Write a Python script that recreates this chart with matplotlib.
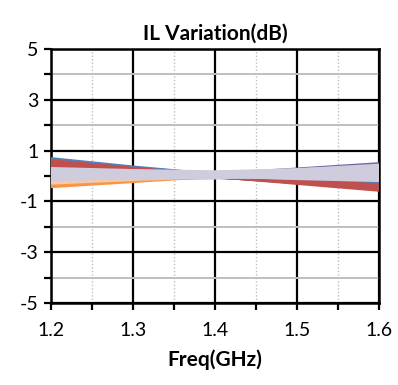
import numpy as np
import matplotlib
matplotlib.use("Agg")
import matplotlib.pyplot as plt

plt.rcParams["axes.unicode_minus"] = False

# frequency points (GHz)
freq = [1.2, 1.3, 1.4, 1.5, 1.6]

# IL variation traces (dB)
blue_traces = [
    [0.66, 0.33, 0.04, -0.14, -0.30],
    [0.62, 0.30, 0.03, -0.12, -0.26],
]
red_traces = [
    [0.58, 0.28, 0.00, -0.27, -0.54],
    [0.52, 0.25, -0.01, -0.24, -0.48],
    [0.45, 0.21, -0.02, -0.21, -0.42],
    [0.38, 0.17, -0.03, -0.19, -0.37],
]
orange_traces = [
    [-0.40, -0.20, 0.01, 0.21, 0.42],
    [-0.34, -0.16, 0.02, 0.18, 0.36],
]
purple_traces = [
    [-0.22, -0.10, 0.05, 0.25, 0.46],
    [-0.18, -0.09, -0.04, -0.08, -0.14],
]
green_traces = [
    [-0.05, 0.00, 0.08, 0.20, 0.34],
    [0.02, 0.01, 0.00, -0.06, -0.12],
]
aqua_traces = [
    [0.10, 0.08, 0.06, 0.15, 0.28],
]
peach_traces = [
    [-0.02, 0.00, 0.04, 0.12, 0.22],
    [-0.26, -0.12, 0.00, 0.08, 0.16],
]
lavender_traces = [
    [0.27, 0.19, 0.14, 0.22, 0.40],
    [0.22, 0.16, 0.12, 0.19, 0.33],
    [0.17, 0.13, 0.10, 0.15, 0.27],
    [0.12, 0.10, 0.08, 0.11, 0.20],
    [0.06, 0.06, 0.06, 0.07, 0.12],
    [0.00, 0.03, 0.04, 0.03, 0.04],
    [-0.06, -0.01, 0.02, -0.01, -0.04],
    [-0.12, -0.05, -0.02, -0.05, -0.12],
    [0.24, 0.14, 0.05, -0.02, -0.08],
    [0.20, 0.14, 0.10, 0.22, 0.36],
    [-0.10, -0.06, -0.06, 0.08, 0.12],
    [0.14, 0.09, 0.02, -0.08, -0.16],
]

groups = [
    (blue_traces, "#4F81BD"),
    (red_traces, "#C0504D"),
    (orange_traces, "#F79646"),
    (purple_traces, "#8064A2"),
    (green_traces, "#9BBB59"),
    (aqua_traces, "#4BACC6"),
    (peach_traces, "#F5C9AE"),
    (lavender_traces, "#CFCCDE"),
]

x_ticks = [1.2, 1.3, 1.4, 1.5, 1.6]
x_minor = [1.25, 1.35, 1.45, 1.55]
y_ticks = [-5, -3, -1, 1, 3, 5]
y_minor = [-4, -2, 0, 2, 4]

fig = plt.figure(figsize=(3.98, 3.85), dpi=100)
ax = fig.add_axes([0.128, 0.213, 0.824, 0.66])

for traces, col in groups:
    for tr in traces:
        ax.plot(freq, tr, color=col, linewidth=3.0, solid_capstyle="butt", zorder=3)

ax.set_xlim(1.2, 1.6)
ax.set_ylim(-5, 5)
ax.set_xticks(x_ticks)
ax.set_xticks(x_minor, minor=True)
ax.set_xticklabels(["1.2", "1.3", "1.4", "1.5", "1.6"])
ax.set_yticks(y_ticks)
ax.set_yticks(y_minor, minor=True)

ax.grid(True, which="major", color="black", linewidth=1.6, zorder=1)
ax.grid(True, which="minor", axis="y", color="#BFBFBF", linewidth=1.4)
ax.grid(True, which="minor", axis="x", color="#BFBFBF", linewidth=1.0, linestyle=(0, (1, 1.5)))
ax.set_axisbelow(True)

for s in ax.spines.values():
    s.set_linewidth(1.8)
    s.set_color("black")

ax.tick_params(axis="both", which="both", direction="out", length=5, width=1.6, color="black")
ax.tick_params(axis="y", which="major", labelsize=14, pad=4)
ax.tick_params(axis="x", which="major", labelsize=14, pad=9)

for lab in ax.get_xticklabels() + ax.get_yticklabels():
    lab.set_fontfamily("Lato")

ax.set_title("IL Variation(dB)", fontsize=15, fontweight="bold", family="Lato", pad=7)
ax.set_xlabel("Freq(GHz)", fontsize=15, fontweight="bold", family="Lato", labelpad=7)

fig.savefig("out.png", dpi=100)
